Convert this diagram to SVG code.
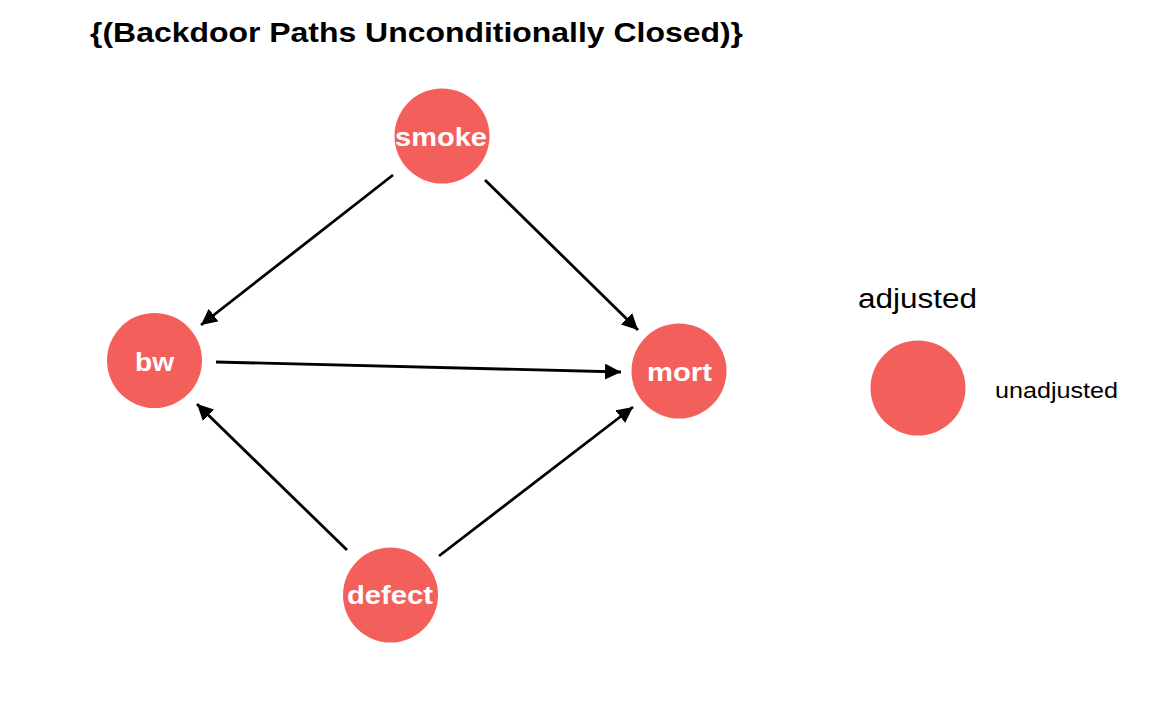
<svg xmlns="http://www.w3.org/2000/svg" width="1152" height="711" viewBox="0 0 1152 711">
<style>
.node{fill:#F3605C}
.lbl{font-family:"Liberation Sans",Arial,sans-serif;font-weight:bold;font-size:26px;fill:#ffffff;text-anchor:middle}
.edge{stroke:#000;stroke-width:2.8;fill:none;marker-end:url(#ah)}
.title{font-family:"Liberation Sans",Arial,sans-serif;font-weight:bold;font-size:28.5px;fill:#000}
.leg{font-family:"Liberation Sans",Arial,sans-serif;fill:#000}
</style>
<defs>
<marker id="ah" markerUnits="userSpaceOnUse" markerWidth="18" markerHeight="18" refX="16" refY="8" orient="auto">
<path d="M0,0 L16,8 L0,16 z" fill="#000"/>
</marker>
</defs>
<rect width="1152" height="711" fill="#fff"/>
<text class="title" x="90" y="42" textLength="653" lengthAdjust="spacingAndGlyphs">{(Backdoor Paths Unconditionally Closed)}</text>
<g id="connectors">
<line class="edge" x1="393" y1="175" x2="201" y2="325"/>
<line class="edge" x1="485" y1="180" x2="638" y2="330"/>
<line class="edge" x1="216" y1="362" x2="621" y2="372"/>
<line class="edge" x1="347" y1="550" x2="197" y2="404"/>
<line class="edge" x1="439" y1="556" x2="633" y2="407"/>
</g>
<g id="smoke">
<circle class="node" cx="442" cy="136" r="47.5"/>
<text class="lbl" x="441" y="146" textLength="92" lengthAdjust="spacingAndGlyphs">smoke</text>
</g>
<g id="bw">
<circle class="node" cx="154.5" cy="360.5" r="47.5"/>
<text class="lbl" x="154.5" y="371" textLength="39" lengthAdjust="spacingAndGlyphs">bw</text>
</g>
<g id="mort">
<circle class="node" cx="679" cy="371" r="47.5"/>
<text class="lbl" x="679.5" y="381" textLength="65" lengthAdjust="spacingAndGlyphs">mort</text>
</g>
<g id="defect">
<circle class="node" cx="390.5" cy="595" r="47.5"/>
<text class="lbl" x="390" y="604" textLength="86" lengthAdjust="spacingAndGlyphs">defect</text>
</g>
<g id="legend">
<text class="leg" x="858" y="308" font-size="27" textLength="119" lengthAdjust="spacingAndGlyphs">adjusted</text>
<circle class="node" cx="918" cy="388" r="47.5"/>
<text class="leg" x="995" y="398" font-size="22" textLength="123" lengthAdjust="spacingAndGlyphs">unadjusted</text>
</g>
</svg>
